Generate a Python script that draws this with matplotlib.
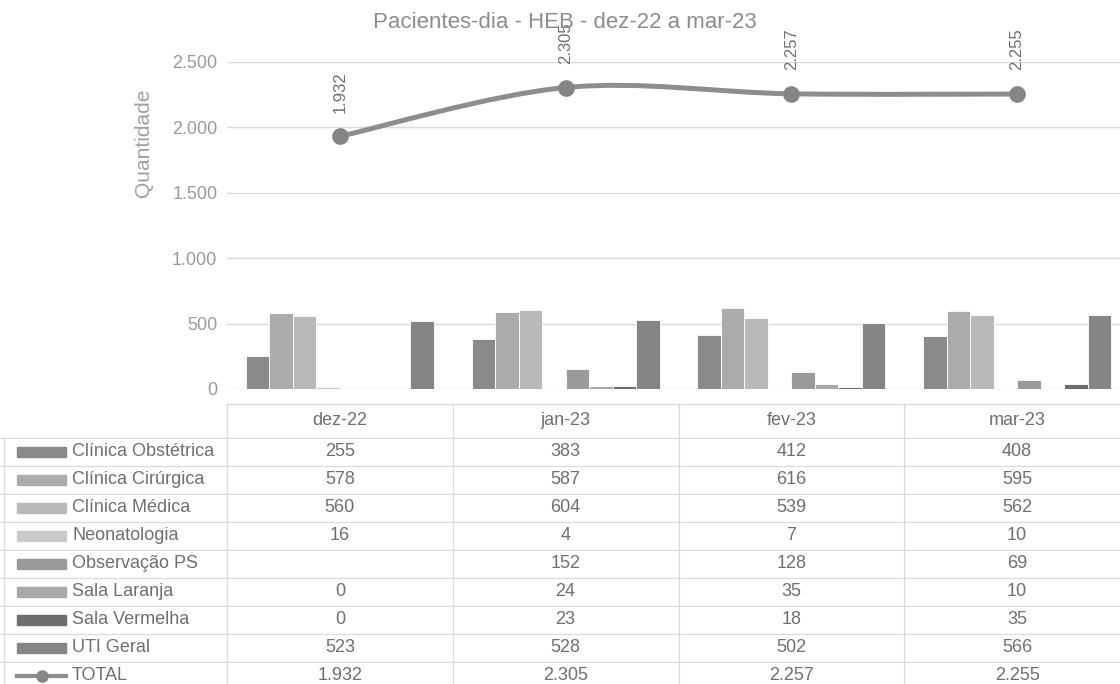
import matplotlib.pyplot as plt
import matplotlib.transforms as mtransforms
from matplotlib.path import Path
from matplotlib.patches import PathPatch, Rectangle
from matplotlib.lines import Line2D
import numpy as np

plt.rcParams['font.family'] = ['Liberation Sans', 'DejaVu Sans']

months = ['dez-22', 'jan-23', 'fev-23', 'mar-23']
series_names = ['Clínica Obstétrica', 'Clínica Cirúrgica', 'Clínica Médica', 'Neonatologia',
                'Observação PS', 'Sala Laranja', 'Sala Vermelha', 'UTI Geral']
obstetrica = [255, 383, 412, 408]
cirurgica = [578, 587, 616, 595]
medica = [560, 604, 539, 562]
neonatologia = [16, 4, 7, 10]
observacao_ps = [None, 152, 128, 69]
sala_laranja = [0, 24, 35, 10]
sala_vermelha = [0, 23, 18, 35]
uti_geral = [523, 528, 502, 566]
total = [1932, 2305, 2257, 2255]

series = [obstetrica, cirurgica, medica, neonatologia, observacao_ps,
          sala_laranja, sala_vermelha, uti_geral]
colors = ['#8a8a8a', '#ababab', '#b9b9b9', '#cacaca', '#9a9a9a', '#a9a9a9', '#6e6e6e', '#858585']
line_color = '#8d8d8d'
text_color = '#6f6f6f'
axis_color = '#9a9a9a'
grid_color = '#dadada'

W, H = 1120, 684


def fmt(v):
    return f"{v:,}".replace(',', '.')


def smooth_path(xs, ys):
    # Excel-style smoothed line (Catmull-Rom as cubic Bezier)
    pts = np.column_stack([xs, ys]).astype(float)
    n = len(pts)
    verts = [pts[0]]
    codes = [Path.MOVETO]
    for i in range(n - 1):
        p0 = pts[max(i - 1, 0)]
        p1 = pts[i]
        p2 = pts[i + 1]
        p3 = pts[min(i + 2, n - 1)]
        verts += [p1 + (p2 - p0) / 6, p2 - (p3 - p1) / 6, p2]
        codes += [Path.CURVE4] * 3
    return Path(verts, codes)


fig = plt.figure(figsize=(W / 100, H / 100), dpi=100)
ax = fig.add_axes([227 / W, 1 - 389 / H, 903 / W, 327 / H])

x = np.arange(len(months))
width = 0.104
for k, (vals, c) in enumerate(zip(series, colors)):
    xs = [xi + (k - 3.5) * width for xi, v in zip(x, vals) if v is not None]
    hs = [v for v in vals if v is not None]
    ax.bar(xs, hs, width=width, color=c, edgecolor='white', linewidth=0.6, zorder=2)

ax.add_patch(PathPatch(smooth_path(x, total), facecolor='none', edgecolor=line_color,
                       lw=3.6, capstyle='round', zorder=3))
ax.plot(x, total, 'o', ms=11, color='#858585', zorder=4)
for xi, v in zip(x, total):
    ax.annotate(fmt(v), (xi, v), xytext=(0, 17), textcoords='offset points', rotation=90,
                ha='center', va='bottom', fontsize=12, color=text_color)

ax.set_xlim(-0.5, 3.5)
ax.set_ylim(0, 2500)
ax.set_yticks(range(0, 2501, 500))
ax.set_yticklabels([fmt(t) for t in range(0, 2501, 500)])
ax.set_xticks([])
ax.tick_params(axis='y', length=0, pad=7, labelsize=13, labelcolor=axis_color)
ax.grid(axis='y', color=grid_color, lw=1)
ax.set_axisbelow(True)
for s in ax.spines.values():
    s.set_visible(False)

fig.text(143 / W, 1 - 143 / H, 'Quantidade', rotation=90, ha='center', va='center',
         fontsize=15, color='#a0a0a0')
fig.text(565 / W, 1 - 22 / H, 'Pacientes-dia - HEB - dez-22 a mar-23', ha='center',
         va='center', fontsize=16, color='#8c8c8c')

# data table below the chart
trans = mtransforms.blended_transform_factory(ax.transData, fig.transFigure)
table_top = 404
header_bottom = 438
row_h = 28
header_y = (table_top + header_bottom) / 2
row_names = series_names + ['TOTAL']
row_values = series + [total]

for xi, m in zip(x, months):
    fig.text(xi, 1 - header_y / H, m, transform=trans, ha='center', va='center',
             fontsize=13, color=text_color)

for r, (name, vals) in enumerate(zip(row_names, row_values)):
    yc = header_bottom + row_h * (r + 0.5)
    yf = 1 - yc / H
    for xi, v in zip(x, vals):
        if v is not None:
            fig.text(xi, yf, fmt(v), transform=trans, ha='center', va='center',
                     fontsize=13, color=text_color)
    fig.text(72 / W, yf, name, ha='left', va='center', fontsize=13, color=text_color)
    if r < len(series):
        fig.add_artist(Rectangle((17 / W, yf - 5 / H), 49 / W, 10 / H,
                                 transform=fig.transFigure, color=colors[r]))
    else:
        fig.add_artist(Line2D([17 / W, 66 / W], [yf, yf], transform=fig.transFigure,
                              color=line_color, lw=3))
        fig.add_artist(Line2D([41.5 / W], [yf], transform=fig.transFigure, marker='o',
                              ms=8, color='#858585'))

# table grid
fig.add_artist(Line2D([-0.5, 3.5], [1 - table_top / H] * 2, transform=trans,
                      color=grid_color, lw=0.9))
for r in range(len(row_names) + 1):
    yb = 1 - (header_bottom + row_h * r) / H
    fig.add_artist(Line2D([0, 1], [yb, yb], transform=fig.transFigure,
                          color=grid_color, lw=0.9))
for b in np.arange(-0.5, 4, 1.0):
    fig.add_artist(Line2D([b, b], [1 - table_top / H, 0], transform=trans,
                          color=grid_color, lw=0.9))
fig.add_artist(Line2D([4 / W, 4 / W], [1 - header_bottom / H, 0], transform=fig.transFigure,
                      color=grid_color, lw=0.9))

fig.savefig('out.png', dpi=100, facecolor='white')
